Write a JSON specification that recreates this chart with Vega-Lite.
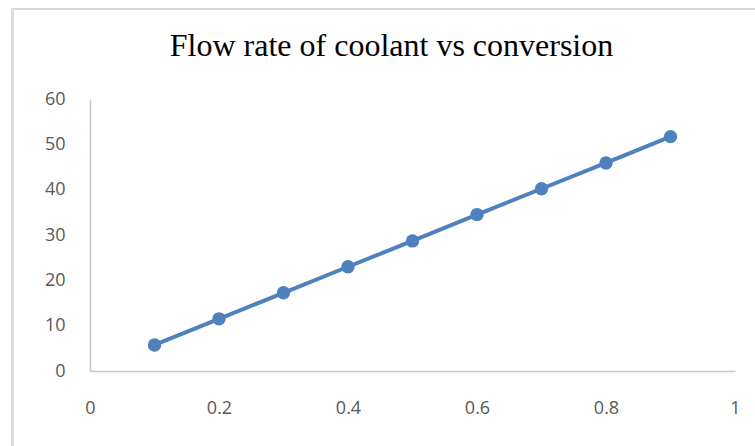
{
  "$schema": "https://vega.github.io/schema/vega-lite/v6.json",
  "width": 645,
  "height": 272,
  "autosize": "none",
  "padding": {"left": 90, "top": 99, "right": 20, "bottom": 75},
  "background": "white",
  "title": {
    "text": "Flow rate of coolant vs conversion",
    "font": "Liberation Serif",
    "fontSize": 32,
    "fontWeight": "normal",
    "color": "#000000",
    "baseline": "alphabetic",
    "dx": -21,
    "offset": -80
  },
  "config": {
    "view": {"stroke": null},
    "axis": {
      "labelFont": "Open Sans",
      "labelFontSize": 18,
      "labelColor": "#595959",
      "domainColor": "#c6c6c6",
      "domainWidth": 1.5,
      "ticks": false,
      "grid": false,
      "labelFlush": false,
      "title": null
    }
  },
  "data": {
    "values": [
      {"conversion": 0.1, "flow": 5.75},
      {"conversion": 0.2, "flow": 11.5},
      {"conversion": 0.3, "flow": 17.25},
      {"conversion": 0.4, "flow": 23.0},
      {"conversion": 0.5, "flow": 28.7},
      {"conversion": 0.6, "flow": 34.5},
      {"conversion": 0.7, "flow": 40.2},
      {"conversion": 0.8, "flow": 45.9},
      {"conversion": 0.9, "flow": 51.7}
    ]
  },
  "layer": [
    {
      "mark": {"type": "rect", "filled": false, "stroke": "#d9d9d9", "strokeWidth": 1.5, "clip": false},
      "encoding": {
        "x": {"datum": -0.12, "type": "quantitative", "scale": {"domain": [0, 1], "nice": false}},
        "x2": {"datum": 1.06},
        "y": {"datum": 79.8, "type": "quantitative", "scale": {"domain": [0, 60], "nice": false}},
        "y2": {"datum": -20}
      }
    },
    {
      "mark": {
        "type": "line",
        "color": "#4f81bd",
        "strokeWidth": 4,
        "point": {"filled": true, "size": 180, "color": "#4f81bd", "opacity": 1}
      },
      "encoding": {
        "x": {
          "field": "conversion",
          "type": "quantitative",
          "scale": {"domain": [0, 1], "nice": false},
          "axis": {"values": [0, 0.2, 0.4, 0.6, 0.8, 1], "format": "~g", "labelPadding": 28}
        },
        "y": {
          "field": "flow",
          "type": "quantitative",
          "scale": {"domain": [0, 60], "nice": false},
          "axis": {"values": [0, 10, 20, 30, 40, 50, 60], "labelPadding": 25}
        }
      }
    }
  ]
}
